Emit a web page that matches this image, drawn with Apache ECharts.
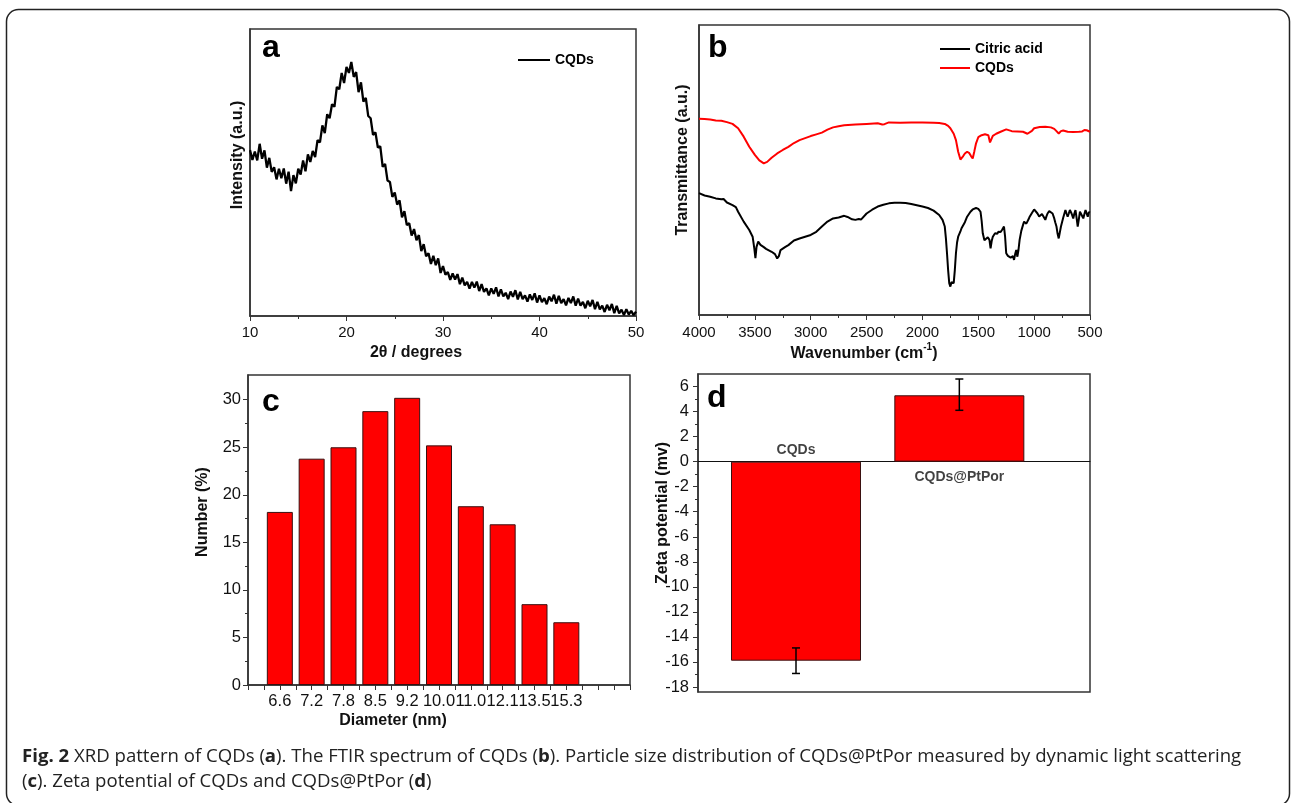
<!DOCTYPE html>
<html>
<head>
<meta charset="utf-8">
<script src="https://cdn.jsdelivr.net/npm/echarts@6/dist/echarts.min.js"></script>
<style>
html,body{margin:0;padding:0;background:#fff;}
#main{width:1292px;height:803px;}
</style>
</head>
<body>
<div id="main"></div>
<script>
// ---------- DATA ----------
// (a) XRD pattern, 2θ from 10° to 50° every 0.25°
const xrdStart = 10;
const xrdStep = 0.25;
const xrdIntensity = [
57.8,54.4,57.3,54.2,60.0,54.8,57.7,51.7,
55.1,50.2,51.8,47.6,51.3,48.0,51.4,46.1,
50.3,43.5,49.1,46.2,51.3,49.3,54.2,50.4,
56.3,53.7,57.5,55.4,61.3,60.5,66.4,63.7,
70.3,68.9,73.8,72.9,79.8,79.0,84.7,81.2,
86.8,84.7,88.5,83.3,85.0,78.0,81.4,74.7,
76.0,69.7,68.9,63.1,64.0,58.7,59.1,52.0,
53.0,47.2,46.7,41.5,43.0,38.8,40.3,34.4,
36.5,31.7,32.3,28.0,30.3,26.4,28.2,22.6,
25.0,20.8,21.9,18.1,21.0,17.7,20.1,15.0,
17.4,14.4,15.3,12.6,14.8,12.7,14.6,11.1,
13.4,10.7,11.9,9.5,11.9,9.9,12.0,8.7,
11.1,8.4,9.6,7.2,9.6,7.7,10.0,6.8,
9.3,6.8,8.1,5.9,8.5,6.7,9.0,5.8,
8.4,5.9,7.2,5.0,7.5,5.6,7.9,4.7,
7.2,4.8,6.2,4.1,6.8,5.1,7.4,4.3,
7.0,4.5,5.9,3.7,6.3,4.5,6.8,3.6,
6.1,3.6,4.9,2.7,5.3,3.4,5.6,2.4,
4.9,2.3,3.6,1.4,3.9,2.0,4.2,1.0,
3.5,0.9,2.2,0.3,2.4,0.5,1.8,0.3,1.5
];

// (b) FTIR spectra [wavenumber, transmittance (a.u.)]
const ftirCQDs = [
[4000,67.7],[3950,67.6],[3900,67.4],[3850,67.1],[3800,67.0],[3750,66.5],[3700,65.9],[3650,64.4],[3600,61.5],[3550,58.0],[3500,55.2],[3460,53.3],[3420,52.3],[3390,52.8],[3350,54.2],[3300,55.7],[3250,56.9],[3200,58.0],[3150,59.3],[3100,60.3],[3050,61.0],[3000,61.7],[2950,62.3],[2900,62.9],[2850,63.9],[2800,64.7],[2750,65.1],[2700,65.4],[2600,65.7],[2500,65.9],[2400,66.1],[2360,65.7],[2340,65.8],[2300,66.4],[2200,66.3],[2100,66.4],[2000,66.4],[1900,66.3],[1850,66.2],[1800,65.9],[1770,65.2],[1750,64.4],[1720,62.5],[1700,60.3],[1680,56.3],[1660,53.6],[1650,53.4],[1635,54.8],[1620,55.7],[1600,56.3],[1580,55.8],[1565,54.8],[1550,54.0],[1535,56.5],[1520,59.2],[1500,61.3],[1470,62.0],[1440,62.3],[1410,62.0],[1395,59.5],[1385,59.8],[1370,61.8],[1340,62.5],[1300,63.2],[1250,64.0],[1200,63.4],[1150,63.3],[1100,63.2],[1060,62.5],[1045,62.3],[1020,63.5],[1000,64.4],[950,64.8],[900,64.9],[850,64.7],[820,64.2],[800,63.4],[780,62.6],[760,63.4],[740,63.6],[700,63.2],[650,63.1],[600,63.2],[570,63.3],[550,63.8],[530,63.7],[500,63.2]
];
const ftirCitric = [
[4000,42.0],[3950,41.2],[3900,40.8],[3850,40.2],[3800,39.9],[3780,40.0],[3750,38.8],[3700,37.9],[3670,37.2],[3650,35.6],[3600,32.2],[3550,29.3],[3520,27.0],[3505,23.0],[3495,19.6],[3485,23.5],[3470,25.3],[3450,24.2],[3420,23.4],[3400,22.8],[3350,21.8],[3320,21.0],[3300,19.5],[3285,20.3],[3270,22.4],[3230,23.4],[3200,24.1],[3150,25.7],[3100,26.4],[3050,27.0],[3000,27.6],[2950,28.7],[2900,30.5],[2850,32.2],[2800,33.3],[2750,33.6],[2700,34.2],[2670,33.8],[2630,33.0],[2600,32.8],[2570,33.1],[2550,32.9],[2500,35.0],[2450,36.3],[2400,37.4],[2350,38.0],[2300,38.5],[2250,38.7],[2200,38.7],[2150,38.6],[2100,38.3],[2000,37.4],[1950,36.9],[1900,36.0],[1850,34.5],[1820,32.8],[1800,30.5],[1790,26.5],[1780,21.3],[1770,15.5],[1760,11.0],[1750,9.8],[1740,11.3],[1730,10.7],[1720,11.0],[1710,15.5],[1700,21.3],[1690,25.0],[1680,27.0],[1660,28.8],[1650,29.9],[1620,32.0],[1600,33.9],[1570,35.6],[1550,36.4],[1520,36.9],[1500,36.6],[1480,35.6],[1470,32.5],[1460,28.2],[1445,25.8],[1430,25.3],[1415,26.8],[1400,25.9],[1390,23.0],[1380,25.5],[1370,27.0],[1350,28.2],[1330,28.0],[1320,28.7],[1300,28.6],[1285,29.5],[1270,30.5],[1260,27.0],[1250,21.3],[1235,20.4],[1220,20.1],[1210,19.8],[1200,19.5],[1190,20.3],[1180,19.0],[1170,21.0],[1160,22.4],[1150,20.1],[1140,22.5],[1130,25.9],[1115,29.0],[1100,31.0],[1090,32.2],[1080,32.8],[1070,31.5],[1060,31.6],[1050,33.0],[1040,33.9],[1020,35.2],[1000,36.4],[985,35.8],[970,35.0],[955,34.0],[940,33.7],[930,34.8],[920,35.0],[910,33.5],[900,32.8],[890,34.0],[880,35.0],[865,35.8],[850,36.2],[835,35.0],[820,33.3],[810,31.8],[800,30.5],[790,28.0],[780,26.4],[770,28.5],[760,30.5],[740,33.5],[720,36.2],[710,35.0],[700,33.9],[690,35.0],[680,36.2],[665,35.0],[650,33.3],[640,35.0],[630,36.2],[620,33.5],[610,30.5],[600,33.0],[590,35.6],[575,34.5],[560,33.3],[550,34.8],[540,36.2],[530,35.0],[520,33.9],[510,35.5],[500,35.3]
];

// (c) particle size distribution
const sizeLabels = ['6.6','7.2','7.8','8.5','9.2','10.0','11.0','12.1','13.5','15.3'];
const sizeValues = [18.2, 23.8, 25.0, 28.8, 30.2, 25.2, 18.8, 16.9, 8.5, 6.6];
const sizeMajorTicks = [0,5,10,15,20,25,30];
const sizeMinorTicks = [2.5,7.5,12.5,17.5,22.5,27.5];

// (d) zeta potential
const zetaNames = ['CQDs','CQDs@PtPor'];
const zetaValues = [-15.9, 5.3];
const zetaErrLow = [-16.92, 4.1];
const zetaErrHigh = [-14.88, 6.6];
const zetaMajorTicks = [-18,-16,-14,-12,-10,-8,-6,-4,-2,0,2,4,6];
const zetaMinorTicks = [-17,-15,-13,-11,-9,-7,-5,-3,-1,1,3,5];

// ---------- CHART ----------
const FONT = '"Liberation Sans", Arial, sans-serif';
const AX = '#333';
const chart = echarts.init(document.getElementById('main'));

const gridBase = {show:true, borderColor:AX, borderWidth:1.5, backgroundColor:'rgba(0,0,0,0)'};
const lblAB = {fontSize:15, color:'#111', fontFamily:FONT};
const lblCD = {fontSize:16.5, color:'#111', fontFamily:FONT};

function titleText(x, y, text, rot){
  return {type:'text', x:x, y:y, rotation: rot ? Math.PI/2 : 0, z:100, silent:true,
    style:{text:text, font:'bold 16px ' + FONT, fill:'#111', align:'center', verticalAlign:'middle'}};
}
function letter(x, y, t){
  return {type:'text', x:x, y:y, z:100, silent:true,
    style:{text:t, font:'bold 32px ' + FONT, fill:'#000', align:'left', verticalAlign:'middle'}};
}
function plain(v){ return String(v); }

const option = {
  animation:false,
  backgroundColor:'#fff',
  grid:[
    Object.assign({left:250, top:29, width:386, height:287}, gridBase),
    Object.assign({left:699, top:25, width:391, height:290}, gridBase),
    Object.assign({left:248, top:375, width:382, height:310}, gridBase),
    Object.assign({left:698, top:374, width:392, height:318}, gridBase)
  ],
  legend:[
    {data:['CQDs (XRD)'], left:513, top:48, itemWidth:32, itemHeight:2, icon:'rect', selectedMode:false,
     formatter:function(){return 'CQDs';},
     textStyle:{fontSize:14, fontWeight:'bold', color:'#000', fontFamily:FONT}},
    {data:['Citric acid','CQDs'], orient:'vertical', left:935, top:37, itemWidth:30, itemHeight:2, icon:'rect', itemGap:5,
     selectedMode:false,
     textStyle:{fontSize:14, fontWeight:'bold', color:'#000', fontFamily:FONT}}
  ],
  xAxis:[
    {gridIndex:0, type:'value', min:10, max:50, interval:10,
     axisLine:{lineStyle:{color:AX, width:1.5}}, axisTick:{length:5, lineStyle:{color:AX}},
     minorTick:{show:true, splitNumber:2, length:3, lineStyle:{color:AX}},
     axisLabel:Object.assign({margin:9, formatter:plain}, lblAB), splitLine:{show:false}},
    {gridIndex:1, type:'value', min:500, max:4000, interval:500, inverse:true,
     axisLine:{lineStyle:{color:AX, width:1.5}}, axisTick:{length:5, lineStyle:{color:AX}},
     minorTick:{show:true, splitNumber:2, length:3, lineStyle:{color:AX}},
     axisLabel:Object.assign({margin:10, formatter:plain}, lblAB), splitLine:{show:false}},
    {gridIndex:2, type:'value', min:0, max:12, interval:1,
     axisLine:{lineStyle:{color:AX, width:1.5}}, axisTick:{length:5, lineStyle:{color:AX}},
     minorTick:{show:true, splitNumber:2, length:5, lineStyle:{color:AX}},
     axisLabel:Object.assign({margin:8, formatter:function(v){ return sizeLabels[v-1] || ''; }}, lblCD),
     splitLine:{show:false}},
    {gridIndex:3, type:'value', min:0.4, max:2.8,
     axisLine:{onZero:true, lineStyle:{color:'#111', width:1}}, axisTick:{show:false},
     axisLabel:{show:false}, splitLine:{show:false}}
  ],
  yAxis:[
    {gridIndex:0, type:'value', min:0, max:100, axisLine:{show:true, lineStyle:{color:AX, width:1.5}},
     axisTick:{show:false}, axisLabel:{show:false}, splitLine:{show:false}},
    {gridIndex:1, type:'value', min:0, max:100, axisLine:{show:true, lineStyle:{color:AX, width:1.5}},
     axisTick:{show:false}, axisLabel:{show:false}, splitLine:{show:false}},
    {gridIndex:2, type:'value', position:'left', min:0, max:32.6, axisLine:{show:true, lineStyle:{color:AX, width:1.5}},
     axisTick:{show:true, length:5, customValues:sizeMajorTicks, lineStyle:{color:AX}},
     axisLabel:Object.assign({margin:7, customValues:sizeMajorTicks}, lblCD), splitLine:{show:false}},
    {gridIndex:2, type:'value', position:'left', offset:0, min:0, max:32.6, axisLine:{show:false},
     axisTick:{show:true, length:3, customValues:sizeMinorTicks, lineStyle:{color:AX}},
     axisLabel:{show:false}, splitLine:{show:false}},
    {gridIndex:3, type:'value', position:'left', min:-18.4, max:7, axisLine:{show:true, onZero:false, lineStyle:{color:AX, width:1.5}},
     axisTick:{show:true, length:5, customValues:zetaMajorTicks, lineStyle:{color:AX}},
     axisLabel:Object.assign({margin:9, customValues:zetaMajorTicks}, lblCD), splitLine:{show:false}},
    {gridIndex:3, type:'value', position:'left', offset:0, min:-18.4, max:7, axisLine:{show:false, onZero:false},
     axisTick:{show:true, length:3, customValues:zetaMinorTicks, lineStyle:{color:AX}},
     axisLabel:{show:false}, splitLine:{show:false}}
  ],
  series:[
    {name:'CQDs (XRD)', type:'line', xAxisIndex:0, yAxisIndex:0, symbol:'none',
     data: xrdIntensity.map(function(v,i){ return [xrdStart + i*xrdStep, v]; }),
     lineStyle:{color:'#000', width:2.3}, itemStyle:{color:'#000'}},
    {name:'Citric acid', type:'line', xAxisIndex:1, yAxisIndex:1, symbol:'none', data:ftirCitric,
     lineStyle:{color:'#000', width:2}, itemStyle:{color:'#000'}},
    {name:'CQDs', type:'line', xAxisIndex:1, yAxisIndex:1, symbol:'none', data:ftirCQDs,
     lineStyle:{color:'#ff0000', width:2}, itemStyle:{color:'#ff0000'}},
    {name:'size', type:'bar', xAxisIndex:2, yAxisIndex:2, barWidth:26,
     data: sizeValues.map(function(v,i){ return [i+1, v]; }),
     itemStyle:{color:'#ff0000', borderColor:'#3a1010', borderWidth:1}},
    {name:'zeta', type:'bar', xAxisIndex:3, yAxisIndex:4, barWidth:130,
     data: zetaValues.map(function(v,i){ return [i+1, v]; }),
     itemStyle:{color:'#ff0000', borderColor:'#3a1010', borderWidth:1}},
    {name:'zetaErr', type:'custom', xAxisIndex:3, yAxisIndex:4, z:5,
     data: zetaValues.map(function(v,i){ return [i+1, zetaErrLow[i], zetaErrHigh[i]]; }),
     encode:{x:0, y:[1,2]},
     renderItem:function(params, api){
       const x = api.value(0);
       const p1 = api.coord([x, api.value(1)]);
       const p2 = api.coord([x, api.value(2)]);
       const hw = 4;
       const st = {stroke:'#000', lineWidth:1.5};
       return {type:'group', children:[
         {type:'line', shape:{x1:p1[0], y1:p1[1], x2:p2[0], y2:p2[1]}, style:st},
         {type:'line', shape:{x1:p1[0]-hw, y1:p1[1], x2:p1[0]+hw, y2:p1[1]}, style:st},
         {type:'line', shape:{x1:p2[0]-hw, y1:p2[1], x2:p2[0]+hw, y2:p2[1]}, style:st}
       ]};
     }},
    {name:'zetaLabels', type:'scatter', xAxisIndex:3, yAxisIndex:4, symbolSize:1, z:6,
     itemStyle:{color:'rgba(0,0,0,0)'},
     data: zetaNames.map(function(n,i){
       return {value:[i+1, 0], name:n,
         label:{show:true, position: zetaValues[i] < 0 ? 'top' : 'bottom', distance: zetaValues[i] < 0 ? 4 : 8,
           formatter:n, fontSize:14, fontWeight:'bold', color:'#111', fontFamily:FONT}};
     })}
  ],
  graphic:[
    {type:'rect', silent:true, z:0, shape:{x:6.5, y:9.5, width:1283, height:796, r:12},
     style:{fill:'none', stroke:'#222', lineWidth:1.5}},
    letter(262, 48, 'a'), letter(708, 48, 'b'), letter(262, 402, 'c'), letter(707, 398, 'd'),
    titleText(237.5, 155, 'Intensity (a.u.)', true),
    titleText(416, 353, '2θ / degrees', false),
    titleText(682.5, 160, 'Transmittance (a.u.)', true),
    {type:'text', x:864, y:352, z:100, silent:true,
     style:{text:'{n|Wavenumber (cm}{s|-1}{n|)}', align:'center', verticalAlign:'middle', fill:'#111',
       rich:{n:{fontSize:16, fontWeight:'bold', fontFamily:FONT, lineHeight:20, fill:'#111', verticalAlign:'bottom'},
             s:{fontSize:10, fontWeight:'bold', fontFamily:FONT, lineHeight:20, fill:'#111', verticalAlign:'top'}}}},
    titleText(202.5, 512, 'Number (%)', true),
    titleText(393, 721, 'Diameter (nm)', false),
    titleText(663, 513, 'Zeta potential (mv)', true),
    {type:'text', x:22, y:757, z:100, silent:true,
     style:{text:'{b|Fig. 2} XRD pattern of CQDs ({b|a}). The FTIR spectrum of CQDs ({b|b}). Particle size distribution of CQDs@PtPor measured by dynamic light scattering',
       font:'18.6px "Open Sans"', fill:'#222', align:'left', verticalAlign:'middle',
       rich:{b:{fontSize:18.6, fontWeight:'bold', fontFamily:'Open Sans', fill:'#222'}}}},
    {type:'text', x:22, y:782, z:100, silent:true,
     style:{text:'({b|c}). Zeta potential of CQDs and CQDs@PtPor ({b|d})',
       font:'18.6px "Open Sans"', fill:'#222', align:'left', verticalAlign:'middle',
       rich:{b:{fontSize:18.6, fontWeight:'bold', fontFamily:'Open Sans', fill:'#222'}}}}
  ]
};
chart.setOption(option);
</script>
</body>
</html>
